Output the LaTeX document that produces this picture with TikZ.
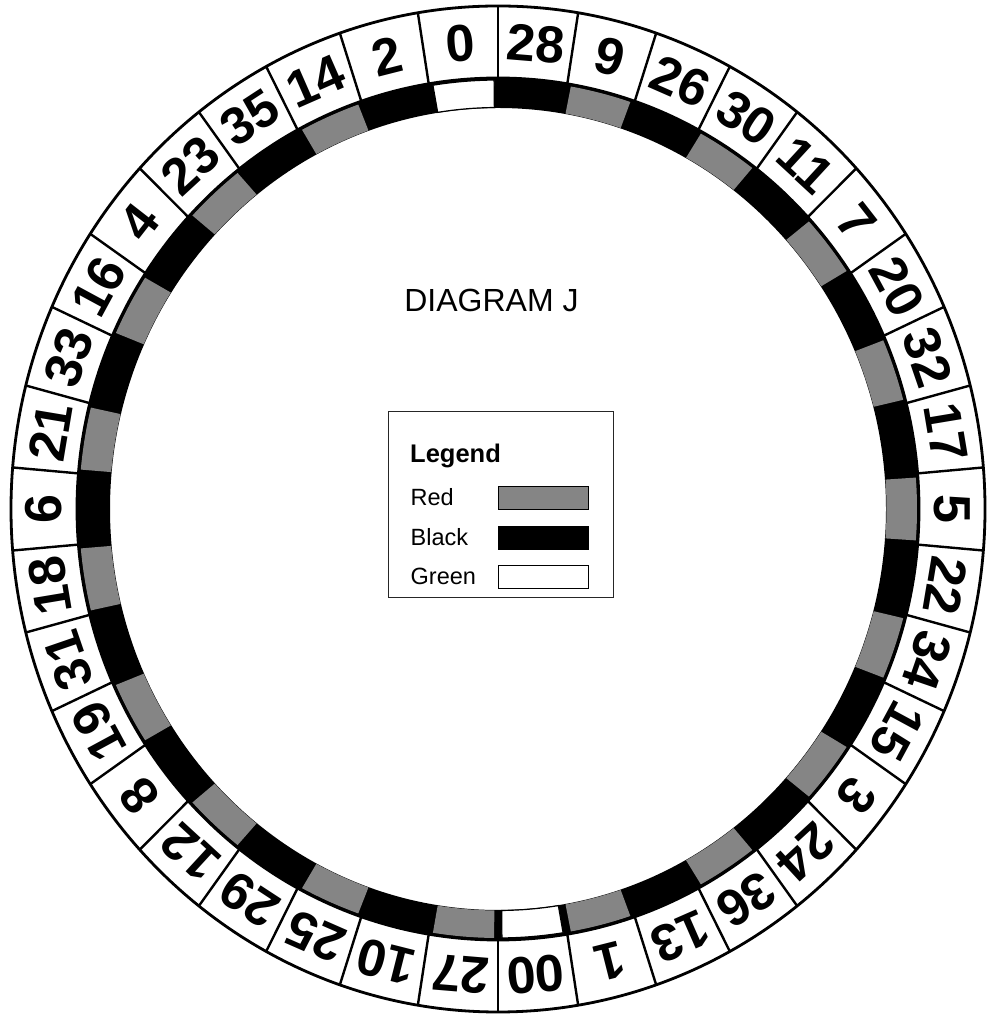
\documentclass[tikz,border=0pt]{standalone}
\usepackage{fontspec}
\setmainfont{Liberation Sans}
\definecolor{redgray}{gray}{0.52}
\begin{document}
\begin{tikzpicture}[x=1pt,y=1pt,
  ringline/.style={line width=2.8pt},
  radline/.style={line width=2.4pt},
  pR/.style={fill=redgray},
  pB/.style={},
  pG/.style={fill=white,draw=black,line width=1.2pt},
  numtext/.style={font=\fontsize{52}{52}\selectfont\bfseries,inner sep=0pt},
  legtext/.style={font=\fontsize{23.5}{24}\selectfont,inner sep=0pt,anchor=base west},
  swatch/.style={draw=black,line width=1pt,minimum width=90pt,minimum height=23pt,inner sep=0pt}]
\useasboundingbox (0,0) rectangle (986,1016);
\def\rxo{487}\def\ryo{503}
\def\rxn{421}\def\ryn{431}
\def\rxc{388}\def\ryc{401}
\def\rxt{454}\def\ryt{467}
\begin{scope}[shift={(498,507)}]
  % black colour ring
  \fill[black,even odd rule] (0,0) ellipse[x radius=\rxn,y radius=\ryn]
                             (0,0) ellipse[x radius=\rxc,y radius=\ryc];
  \foreach \n/\c [count=\k from 0] in {0/G,28/B,9/R,26/B,30/R,11/B,7/R,20/B,32/R,17/B,5/R,22/B,34/R,15/B,3/R,24/B,36/R,13/B,1/R,00/G,27/R,10/B,25/R,29/B,12/R,8/B,19/R,31/B,18/R,6/B,21/R,33/B,16/R,4/B,23/R,35/B,14/R,2/B} {
    \pgfmathsetmacro\a{94.7368-\k*9.47368}
    \pgfmathsetmacro\s{\a+4.2}
    \pgfmathsetmacro\e{\a-4.2}
    \pgfmathsetmacro\b{\a+4.7368}
    \path[p\c] ({(\rxc+0.5)*cos(\s)},{(\ryc+0.5)*sin(\s)}) -- ({(\rxn-2)*cos(\s)},{(\ryn-2)*sin(\s)})
      arc[start angle=\s,end angle=\e,x radius=\rxn-2,y radius=\ryn-2]
      -- ({(\rxc+0.5)*cos(\e)},{(\ryc+0.5)*sin(\e)})
      arc[start angle=\e,end angle=\s,x radius=\rxc+0.5,y radius=\ryc+0.5] -- cycle;
    \draw[radline] ({\rxn*cos(\b)},{\ryn*sin(\b)}) -- ({\rxo*cos(\b)},{\ryo*sin(\b)});
    \node[numtext,rotate=\a-90] (n\k) at ({\rxt*cos(\a)},{\ryt*sin(\a)}) {\n};
  }
  \draw[ringline] (0,0) ellipse[x radius=\rxo,y radius=\ryo];
  \draw[ringline] (0,0) ellipse[x radius=\rxn,y radius=\ryn];
\end{scope}
% title
\node[font=\fontsize{32}{32}\selectfont,inner sep=0pt,anchor=base] (title) at (491.5,704) {DIAGRAM J};
% legend
\node[draw=black!85,line width=1pt,minimum width=225pt,minimum height=186pt,inner sep=0pt] (legend) at (500.5,511) {};
\node[legtext,font=\fontsize{25.5}{26}\selectfont\bfseries] (lt) at (410,553) {Legend};
\node[legtext] (lr) at (410.5,510) {Red};
\node[legtext] (lb) at (410.5,470.3) {Black};
\node[legtext] (lg) at (410.5,431) {Green};
\node[swatch,fill=redgray] (sr) at (543,517.5) {};
\node[swatch,fill=black] (sb) at (543,478) {};
\node[swatch,fill=white] (sg) at (543,438.5) {};
\end{tikzpicture}
\end{document}
